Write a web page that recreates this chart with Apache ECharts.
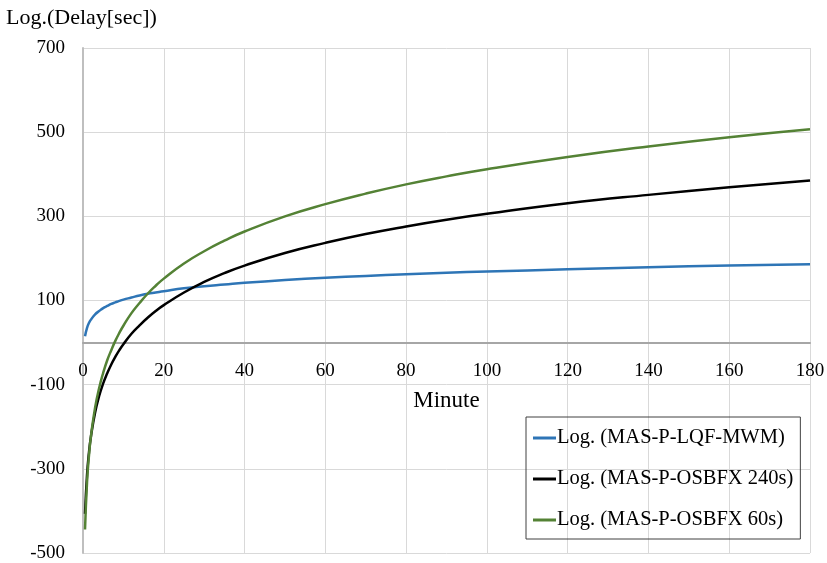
<!DOCTYPE html>
<html>
<head>
<meta charset="utf-8">
<script src="https://cdn.jsdelivr.net/npm/echarts@6/dist/echarts.min.js"></script>
<style>html,body{margin:0;padding:0;background:#fff}#c{width:827px;height:563px}</style>
</head>
<body>
<div id="c"></div>
<script>
const minutes = [0.5, 1, 1.5, 2, 3, 4, 5, 6, 7, 8, 9, 10, 12, 14, 16, 18, 20, 25, 30, 35, 40, 50, 60, 70, 80, 90, 100, 120, 140, 160, 180];
const lqfMwm = [15, 35, 47, 55, 67, 75, 82, 87, 92, 95.5, 99, 102, 107, 112, 116, 119, 122, 129, 134, 138, 142, 148.5, 154, 158.5, 162.5, 166, 169, 174, 179, 183, 186];
const osbfx240 = [-407, -314, -259, -221, -166, -127, -97, -73, -52, -34, -18, -4, 21, 41, 59, 75, 89, 119, 144, 165, 183, 213, 237, 258, 276, 292, 306, 331, 351, 369, 385];
const osbfx60 = [-444, -332, -266, -220, -154, -108, -72, -42, -18, 4, 23, 40, 70, 94, 116, 135, 152, 188, 217, 242, 264, 300, 329, 354, 376, 395, 412, 441, 466, 488, 507];
const seriesNames = ['Log. (MAS-P-LQF-MWM)', 'Log. (MAS-P-OSBFX 240s)', 'Log. (MAS-P-OSBFX 60s)'];
const yTitle = 'Log.(Delay[sec])';
const xTitle = 'Minute';

const font = 'Liberation Serif';
const pair = arr => minutes.map((m, i) => [m, arr[i]]);
const colors = ['#2e75b6', '#000000', '#548235'];
const datasets = [lqfMwm, osbfx240, osbfx60];

const chart = echarts.init(document.getElementById('c'), null, {renderer: 'canvas'});
chart.setOption({
  animation: false,
  backgroundColor: '#fff',
  textStyle: {fontFamily: font},
  title: {
    text: yTitle, left: 1, top: 2,
    textStyle: {fontFamily: font, fontSize: 22, fontWeight: 'normal', color: '#000'}
  },
  grid: {left: 83, right: 17, top: 48, bottom: 10, outerBoundsMode: 'none', containLabel: false},
  legend: {
    orient: 'vertical', left: 526, top: 417,
    padding: [10, 7, 8, 7],
    itemGap: 19,
    itemWidth: 23, itemHeight: 3,
    icon: 'rect',
    borderColor: '#404040', borderWidth: 1,
    textStyle: {fontFamily: font, fontSize: 20.5, color: '#000', padding: [0, 0, 0, -4], lineHeight: 22},
    data: seriesNames
  },
  xAxis: {
    type: 'value', min: 0, max: 180, interval: 20,
    name: xTitle, nameLocation: 'middle', nameGap: -164,
    nameTextStyle: {fontFamily: font, fontSize: 23, color: '#000', verticalAlign: 'top'},
    axisLine: {show: true, onZero: true, lineStyle: {color: '#a6a6a6', width: 2}},
    axisTick: {show: false},
    axisLabel: {fontFamily: font, fontSize: 19, color: '#000', margin: -191, verticalAlign: 'top'},
    splitLine: {show: true, lineStyle: {color: '#d9d9d9', width: 1}}
  },
  yAxis: {
    type: 'value', min: -500, max: 700, interval: 200,
    axisLine: {show: true, onZero: false, lineStyle: {color: '#bfbfbf', width: 2}},
    axisTick: {show: false},
    axisLabel: {fontFamily: font, fontSize: 19, color: '#000', margin: 18},
    splitLine: {show: true, lineStyle: {color: '#d9d9d9', width: 1}}
  },
  series: datasets.map((d, i) => ({
    name: seriesNames[i], type: 'line', smooth: true, showSymbol: false,
    data: pair(d),
    itemStyle: {color: colors[i]},
    lineStyle: {color: colors[i], width: 2.5}
  }))
});
</script>
</body>
</html>
